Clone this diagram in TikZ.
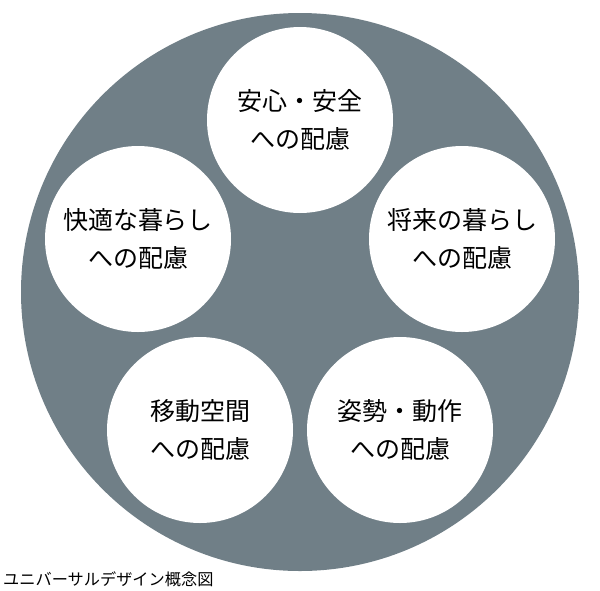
\documentclass[tikz,border=0pt]{standalone}
\usepackage{fontspec}
\newfontfamily\jpfont{Noto Sans CJK JP}
\definecolor{discgray}{RGB}{112,127,135}
\tikzset{
  aspect/.style={circle,fill=white,minimum size=186pt,inner sep=0pt,align=center,font=\jpfont\fontsize{25}{38}\selectfont},
}
\begin{document}
\begin{tikzpicture}[x=1pt,y=-1pt]
        % Frame
        \useasboundingbox (0,0) rectangle (600,590);
        % Outer disc
        \node[circle,fill=discgray,minimum size=558pt,inner sep=0pt](disc) at (300,292){};
        % Aspect circles
        \node[aspect](safety) at (300,120){安心・安全\\への配慮};
        \node[aspect](comfort) at (138,239){快適な暮らし\\への配慮};
        \node[aspect](future) at (462,239){将来の暮らし\\への配慮};
        \node[aspect](movement) at (200,430){移動空間\\への配慮};
        \node[aspect](posture) at (400,430){姿勢・動作\\への配慮};
        % Caption
        \node[anchor=south west,inner sep=0pt,font=\jpfont\fontsize{16.2}{18}\selectfont](caption) at (3,587){ユニバーサルデザイン概念図};
\end{tikzpicture}
\end{document}
